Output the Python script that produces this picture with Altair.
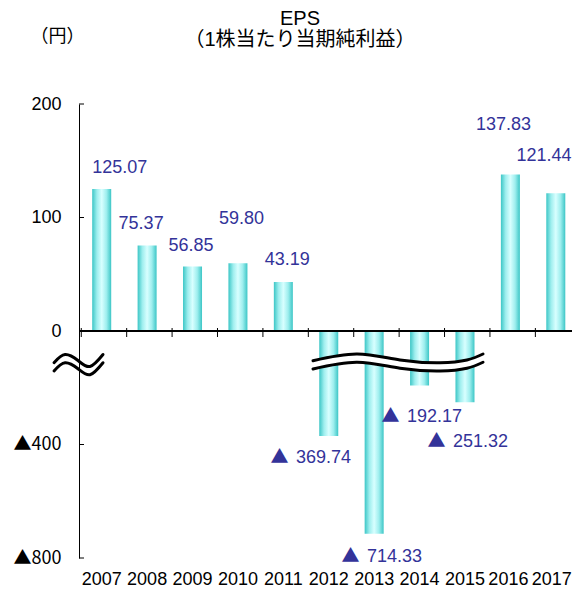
import altair as alt
import pandas as pd

# ---- data ----
years = ["2007", "2008", "2009", "2010", "2011", "2012", "2013", "2014", "2015", "2016", "2017"]
eps = [125.07, 75.37, 56.85, 59.80, 43.19, -369.74, -714.33, -192.17, -251.32, 137.83, 121.44]
y_tick_values = [-800, -400, 0, 100, 200]

# label nudges in pixels relative to the bar end
# (positive values: centre of the label; negative values: left edge of the number)
label_dx = [18, -6, -1.5, 3.5, 4, -32.8, -7.2, -12.6, -12.0, -6.8, -11.8]
label_dy = [-16, -16.5, -15.5, -39, -17, 27, 28, 36.5, 44.5, -44.5, -32.5]
TRI_GAP = 7.5

# axis-break decoration shapes (x in category index units, y in axis units)
left_break_x = [-1.05, -0.808, -0.522, -0.258, 0.0285]
left_break_y = [-111.7, -82.8, -104.0, -125.1, -82.8]
mid_break_x = [4.653, 5.624, 6.569, 7.45, 8.044, 8.397]
mid_break_y = [-104.7, -81.1, -102.2, -111.7, -102.2, -81.1]
break_gap = 29

W, H = 493, 454
ZERO = 227
XR = 499.5  # full band range (right end runs up to the window edge)
FONT = "Liberation Sans"
CJK = "Noto Sans CJK JP"
BLUE = "#333399"

labels = [f"{abs(v):.2f}" for v in eps]
df = pd.DataFrame({"year": years, "eps": eps, "label": labels})

x_scale = alt.Scale(domain=years, range=[0, XR], paddingInner=0.1, paddingOuter=0.05)
y_scale = alt.Scale(domain=[-800, 0, 200], range=[H, ZERO, 0], nice=False, zero=False)

grad = alt.Gradient(
    gradient="linear",
    stops=[
        alt.GradientStop(color="#3cc6c6", offset=0),
        alt.GradientStop(color="#9eeeee", offset=0.25),
        alt.GradientStop(color="#d8ffff", offset=0.5),
        alt.GradientStop(color="#9eeeee", offset=0.75),
        alt.GradientStop(color="#3cc6c6", offset=1),
    ],
    x1=0, x2=1, y1=0, y2=0,
)

bars = alt.Chart(df).mark_bar(size=19, color=grad).encode(
    x=alt.X("year:N", scale=x_scale, axis=alt.Axis(
        title=None, domain=False, ticks=False, tickSize=0, labelPadding=26,
        labelAngle=0, labelFontSize=18, labelFont=FONT, labelColor="black",
        labelOverlap=False, labelBaseline="alphabetic",
        labelOffset={"condition": [
            {"test": "datum.value === '2017'", "value": -4},
            {"test": "datum.value === '2016'", "value": -2},
        ], "value": 0})),
    y=alt.Y("eps:Q", scale=y_scale, axis=alt.Axis(
        values=y_tick_values,
        labelExpr="datum.value < 0 ? '▲' + (-datum.value) : '' + datum.value",
        labelFont={"condition": {"test": "datum.value < 0", "value": CJK}, "value": FONT},
        ticks=False, tickSize=0, labelPadding=18, labelFontSize=18,
        labelColor="black", domainColor="black", grid=False,
        title="（円）", titleAngle=0, titleX=-22, titleY=-68, titleAlign="center",
        titleBaseline="middle", titleFontSize=18, titleFontWeight="normal",
        titleFont=CJK, titleColor="black")),
)

zero_line = alt.Chart(df).mark_rule(color="black", strokeWidth=1).encode(
    y=alt.YDatum(0)
)

x_ticks = alt.Chart(df).mark_rule(color="black", strokeWidth=1, yOffset=-3, y2Offset=6).encode(
    x=alt.X("year:N", bandPosition=0),
    y=alt.YDatum(0),
    y2=alt.Y2Datum(0),
)

ytick_df = pd.DataFrame({"v": y_tick_values})
y_ticks = alt.Chart(ytick_df).mark_rule(color="black", strokeWidth=1).encode(
    y=alt.Y("v:Q"),
    x=alt.value(0),
    x2=alt.value(5),
)

text_layers = []
for i, yr in enumerate(years):
    base = alt.Chart(df).transform_filter(alt.datum.year == yr)
    neg = eps[i] < 0
    text_layers.append(
        base.mark_text(
            dx=label_dx[i], dy=label_dy[i], align="left" if neg else "center",
            baseline="alphabetic", fontSize=18, font=FONT, color=BLUE,
        ).encode(x=alt.X("year:N"), y=alt.Y("eps:Q"), text="label:N")
    )
    if neg:
        text_layers.append(
            base.mark_text(
                text="▲", dx=label_dx[i] - TRI_GAP, dy=label_dy[i], align="right",
                baseline="alphabetic", fontSize=18, font=CJK, color=BLUE,
            ).encode(x=alt.X("year:N"), y=alt.Y("eps:Q"))
        )

inner = alt.layer(bars, zero_line, x_ticks, y_ticks, *text_layers)

# break marks
rows = []
for xx, yy in zip(left_break_x, left_break_y):
    rows.append({"i": xx, "v": yy, "line": "L1"})
    rows.append({"i": xx, "v": yy - break_gap, "line": "L2"})
for xx, yy in zip(mid_break_x, mid_break_y):
    rows.append({"i": xx, "v": yy, "line": "M1"})
    rows.append({"i": xx, "v": yy - break_gap, "line": "M2"})
brk = pd.DataFrame(rows)
band = pd.DataFrame({"i": mid_break_x, "up": mid_break_y,
                     "lo": [v - break_gap for v in mid_break_y]})

wx = alt.Scale(domain=[-0.5, 10.5], range=[0, XR], nice=False, zero=False)

break_band = alt.Chart(band).mark_area(interpolate="natural", color="white").encode(
    x=alt.X("i:Q", scale=wx, axis=None),
    y=alt.Y("up:Q"),
    y2="lo:Q",
)
break_lines = alt.Chart(brk).mark_line(
    interpolate="natural", color="black", strokeWidth=3, strokeCap="round"
).encode(
    x=alt.X("i:Q", scale=wx, axis=None),
    y=alt.Y("v:Q"),
    detail="line:N",
)

chart = alt.layer(inner, break_band, break_lines).resolve_scale(
    x="independent"
).properties(
    width=W, height=H,
    autosize=alt.AutoSizeParams(type="none"),
    padding={"left": 71, "top": 96, "right": 0, "bottom": 31},
    title=alt.Title(
        text=["EPS", "（1株当たり当期純利益）"],
        font=f"{FONT}, {CJK}", fontSize=20, fontWeight="normal",
        color="black", anchor="middle", dx=-25.5, offset=-23, lineHeight=21,
    ),
).configure_view(stroke=None)

chart.save("out.html", embed_options={"renderer": "svg", "actions": False})
